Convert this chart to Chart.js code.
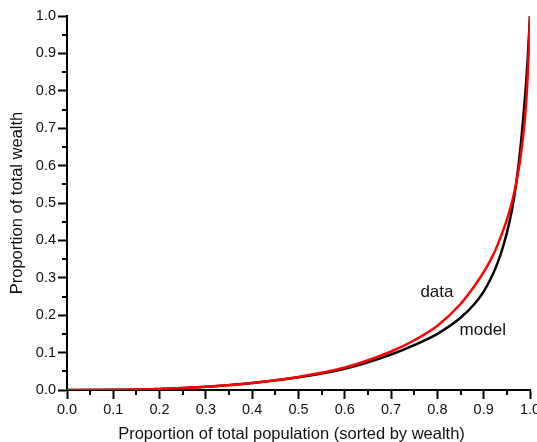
<!DOCTYPE html>
<html>
<head>
<meta charset="utf-8">
<script src="https://cdn.jsdelivr.net/npm/chart.js@4"></script>
<style>
  html, body { margin: 0; padding: 0; background: #fff; }
  #wrap { width: 537px; height: 442px; }
</style>
</head>
<body>
<div id="wrap"><canvas id="myChart" width="537" height="442"></canvas></div>
<script>
// population share (x) and wealth share (y)
const popShare = [0, 0.1, 0.2, 0.3, 0.4, 0.5, 0.6, 0.7, 0.75, 0.8, 0.85, 0.88, 0.9, 0.92, 0.93, 0.94, 0.95, 0.96, 0.97, 0.98, 0.99, 0.995, 1.0];
const dataWealth = [0, 0.0005, 0.003, 0.009, 0.019, 0.035, 0.060, 0.103, 0.133, 0.172, 0.230, 0.278, 0.315, 0.360, 0.388, 0.420, 0.455, 0.497, 0.552, 0.627, 0.740, 0.840, 1.0];
const modelWealth = [0, 0.0005, 0.003, 0.009, 0.019, 0.034, 0.057, 0.095, 0.120, 0.150, 0.193, 0.230, 0.263, 0.310, 0.340, 0.376, 0.420, 0.475, 0.550, 0.655, 0.795, 0.885, 1.0];
const tickValues = [0, 0.1, 0.2, 0.3, 0.4, 0.5, 0.6, 0.7, 0.8, 0.9, 1.0];
const curveLabels = [
    { text: 'data', x: 0.799, y: 0.262 },
    { text: 'model', x: 0.898, y: 0.160 },
];
const xTitle = 'Proportion of total population (sorted by wealth)';
const yTitle = 'Proportion of total wealth';

const FONT = '"Liberation Sans", Arial, sans-serif';

const toPoints = (ys) => popShare.map((x, i) => ({ x: x, y: ys[i] }));

// minor ticks (every 0.05), x title and the curve labels
const extras = {
    id: 'extras',
    afterDraw(chart) {
        const ctx = chart.ctx;
        const xs = chart.scales.x, ys = chart.scales.y;
        ctx.save();
        ctx.strokeStyle = '#000';
        ctx.lineWidth = 2;
        for (let i = 0; i < tickValues.length - 1; i++) {
            const v = (tickValues[i] + tickValues[i + 1]) / 2;
            const px = Math.round(xs.getPixelForValue(v));
            ctx.beginPath();
            ctx.moveTo(px, xs.top);
            ctx.lineTo(px, xs.top + 5);
            ctx.stroke();
            const py = Math.round(ys.getPixelForValue(v));
            ctx.beginPath();
            ctx.moveTo(ys.right, py);
            ctx.lineTo(ys.right - 5, py);
            ctx.stroke();
        }
        ctx.fillStyle = '#111';
        ctx.textAlign = 'center';
        ctx.font = '16.5px ' + FONT;
        ctx.textBaseline = 'alphabetic';
        ctx.fillText(xTitle, (xs.left + xs.right) / 2 - 7, chart.height - 3);
        ctx.font = '17px ' + FONT;
        ctx.textBaseline = 'middle';
        curveLabels.forEach(l => {
            ctx.fillText(l.text, xs.getPixelForValue(l.x), ys.getPixelForValue(l.y));
        });
        ctx.restore();
    }
};

const axisCommon = {
    type: 'linear',
    min: 0,
    max: 1,
    border: { display: true, color: '#000', width: 2 },
    grid: { drawOnChartArea: false, drawTicks: true, tickLength: 9, tickWidth: 2, tickColor: '#000' },
    ticks: {
        stepSize: 0.1,
        color: '#111',
        font: { family: FONT, size: 14.5 },
        padding: 2,
        maxRotation: 0,
        callback: (v) => v.toFixed(1),
    },
};

const config = {
    type: 'line',
    data: {
        datasets: [{
            label: 'data',
            data: toPoints(dataWealth),
            borderColor: 'rgb(255, 0, 0)',
            borderWidth: 2.5,
            pointRadius: 0,
            cubicInterpolationMode: 'monotone',
        }, {
            label: 'model',
            data: toPoints(modelWealth),
            borderColor: '#000',
            borderWidth: 2.5,
            pointRadius: 0,
            cubicInterpolationMode: 'monotone',
        }]
    },
    options: {
        responsive: false,
        animation: false,
        events: [],
        layout: { padding: { left: 0, right: 7, top: 16, bottom: 0 } },
        plugins: {
            legend: { display: false },
            tooltip: { enabled: false },
        },
        scales: {
            x: {
                ...axisCommon,
                afterFit(scale) {
                    scale.height = 52;
                    scale.paddingLeft = 0;
                    scale.paddingRight = 0;
                },
            },
            y: {
                ...axisCommon,
                title: {
                    display: true,
                    text: yTitle,
                    color: '#111',
                    font: { family: FONT, size: 16.5 },
                    padding: { top: 8, bottom: 0 },
                },
                afterFit(scale) {
                    scale.width = 67;
                    scale.paddingTop = 0;
                    scale.paddingBottom = 0;
                },
            },
        },
    },
    plugins: [extras],
};

const myChart = new Chart(document.getElementById('myChart'), config);
</script>
</body>
</html>
